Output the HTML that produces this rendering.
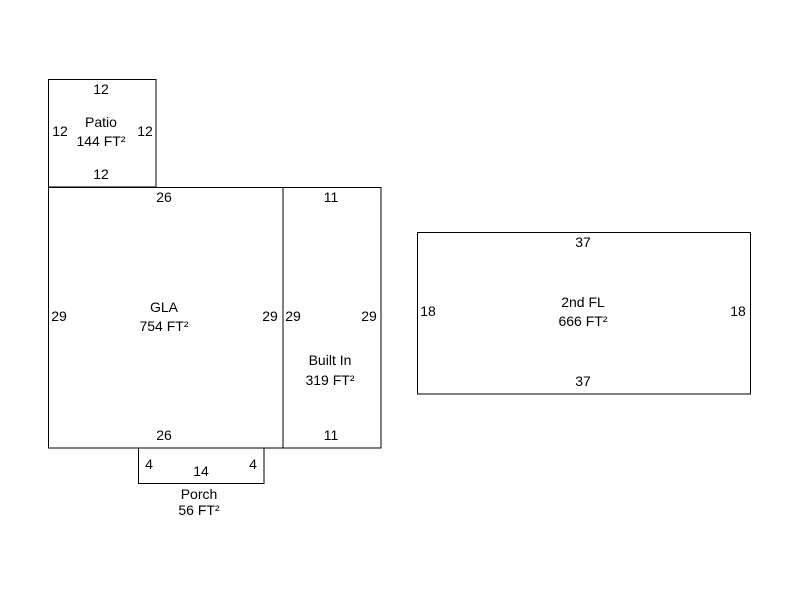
<!DOCTYPE html>
<html><head><meta charset="utf-8"><style>
html,body{margin:0;padding:0;background:#fff;}
svg{display:block;}
text{font-family:"Liberation Sans",Arial,sans-serif;font-size:14px;fill:#000;}
</style></head><body>
<svg width="800" height="600" viewBox="0 0 800 600" xmlns="http://www.w3.org/2000/svg">
<g fill="none" stroke="#000" stroke-width="1">
<rect x="48.5" y="79.5" width="107.5" height="107.5"/>
<rect x="48.5" y="187.5" width="234.5" height="260.5"/>
<rect x="283" y="187.5" width="98" height="260.5"/>
<rect x="138.5" y="448" width="125.5" height="35.5"/>
<rect x="417.5" y="232.5" width="333" height="161.5"/>
</g>
<g text-anchor="middle">
<text x="101" y="94">12</text>
<text x="60" y="136">12</text>
<text x="145" y="136">12</text>
<text x="101" y="127">Patio</text>
<text x="101" y="146">144 FT²</text>
<text x="101" y="179">12</text>

<text x="164" y="202">26</text>
<text x="59" y="321">29</text>
<text x="270" y="321">29</text>
<text x="164" y="312">GLA</text>
<text x="164" y="331">754 FT²</text>
<text x="164" y="440">26</text>

<text x="331" y="202">11</text>
<text x="293" y="321">29</text>
<text x="369" y="321">29</text>
<text x="330" y="365">Built In</text>
<text x="330" y="385">319 FT²</text>
<text x="331" y="440">11</text>

<text x="149" y="469">4</text>
<text x="201" y="476">14</text>
<text x="253" y="469">4</text>
<text x="199" y="499">Porch</text>
<text x="199" y="515">56 FT²</text>

<text x="583" y="247">37</text>
<text x="428" y="316">18</text>
<text x="738" y="316">18</text>
<text x="583" y="307">2nd FL</text>
<text x="583" y="326">666 FT²</text>
<text x="583" y="386">37</text>
</g>
</svg>
</body></html>
